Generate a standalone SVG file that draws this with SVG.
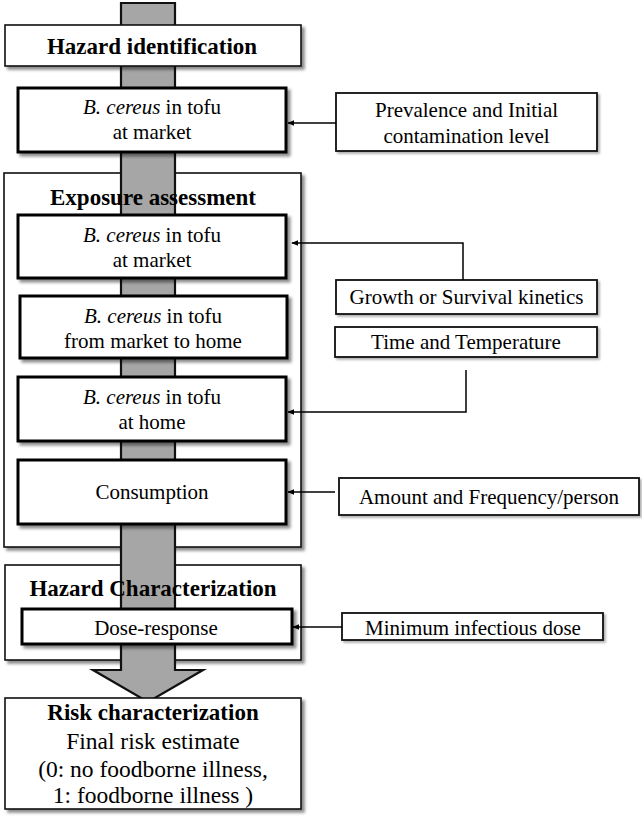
<svg xmlns="http://www.w3.org/2000/svg" width="642" height="818" viewBox="0 0 642 818">
<defs>
<filter id="sh" x="-10%" y="-10%" width="130%" height="140%">
<feDropShadow dx="3" dy="3" stdDeviation="1.5" flood-color="#000" flood-opacity="0.45"/>
</filter>
<filter id="sh2" x="-10%" y="-10%" width="130%" height="140%">
<feDropShadow dx="2" dy="2" stdDeviation="1" flood-color="#000" flood-opacity="0.3"/>
</filter>
<marker id="ah" viewBox="0 0 10 10" refX="9" refY="5" markerWidth="7" markerHeight="7" markerUnits="userSpaceOnUse" orient="auto">
<path d="M0,1 L10,5 L0,9 z" fill="#000"/>
</marker>
</defs>
<style>
text{font-family:"Liberation Serif","Times New Roman",serif;fill:#000;text-anchor:middle}
.t{font-size:21px}
.h{font-size:23px;font-weight:bold}
.r{font-size:23.5px}
.i{font-style:italic}
.thin{fill:#fff;stroke:#111;stroke-width:1.6;filter:url(#sh)}
.thick{fill:#fff;stroke:#000;stroke-width:3;filter:url(#sh)}
.side{fill:#fff;stroke:#111;stroke-width:1.8;filter:url(#sh2)}
.con{fill:none;stroke:#000;stroke-width:1.5}
</style>

<g id="exposure-assessment">
<rect class="thin" x="4" y="173" width="297" height="374"/>
</g>
<g id="hazard-characterization">
<rect class="thin" x="5" y="565" width="296" height="95"/>
</g>

<g id="flow-arrow">
<path d="M121,3 H175 V670 H203 L148,702 L93,670 H121 Z" fill="#a6a6a6" stroke="#111" stroke-width="2.2" stroke-linejoin="miter"/>
</g>

<g id="exposure-title"><text class="h" x="153" y="205">Exposure assessment</text></g>
<g id="hazard-char-title"><text class="h" x="153" y="596">Hazard Characterization</text></g>

<g id="hazard-identification">
<rect class="thin" x="5" y="25" width="296" height="41"/>
<text class="h" x="152" y="54">Hazard identification</text>
</g>

<g id="tofu-market-1">
<rect class="thick" x="18" y="88" width="268" height="64"/>
<text class="t" x="152" y="114"><tspan class="i">B. cereus</tspan> in tofu</text>
<text class="t" x="152" y="139">at market</text>
</g>

<g id="tofu-market-2">
<rect class="thick" x="18" y="215" width="268" height="63"/>
<text class="t" x="152" y="242"><tspan class="i">B. cereus</tspan> in tofu</text>
<text class="t" x="152" y="267">at market</text>
</g>

<g id="tofu-transport">
<rect class="thick" x="20" y="296" width="267" height="62"/>
<text class="t" x="153" y="323"><tspan class="i">B. cereus</tspan> in tofu</text>
<text class="t" x="153" y="348">from market to home</text>
</g>

<g id="tofu-home">
<rect class="thick" x="18" y="377" width="268" height="64"/>
<text class="t" x="152" y="404"><tspan class="i">B. cereus</tspan> in tofu</text>
<text class="t" x="152" y="429">at home</text>
</g>

<g id="consumption">
<rect class="thick" x="18" y="460" width="268" height="64"/>
<text class="t" x="152" y="499">Consumption</text>
</g>

<g id="dose-response">
<rect class="thick" x="22" y="609" width="270" height="35"/>
<text class="t" x="156" y="635">Dose-response</text>
</g>

<g id="risk-characterization">
<rect class="thin" x="5" y="698" width="296" height="111"/>
<text class="h" x="153" y="720">Risk characterization</text>
<text class="r" x="153" y="749">Final risk estimate</text>
<text class="r" x="153" y="777">(0: no foodborne illness,</text>
<text class="r" x="153" y="803">1: foodborne illness )</text>
</g>

<g id="prevalence">
<rect class="side" x="336" y="93" width="261" height="58"/>
<text class="t" x="466.5" y="117">Prevalence and Initial</text>
<text class="t" x="466.5" y="143">contamination level</text>
</g>

<g id="growth-kinetics">
<rect class="side" x="336" y="280" width="261" height="34"/>
<text class="t" x="466.5" y="304">Growth or Survival kinetics</text>
</g>

<g id="time-temperature">
<rect class="side" x="335" y="327" width="262" height="30"/>
<text class="t" x="466" y="349">Time and Temperature</text>
</g>

<g id="amount-frequency">
<rect class="side" x="339" y="478" width="300" height="37"/>
<text class="t" x="489" y="504">Amount and Frequency/person</text>
</g>

<g id="min-infectious-dose">
<rect class="side" x="342" y="613" width="261" height="27"/>
<text class="t" x="473" y="635">Minimum infectious dose</text>
</g>

<g id="connectors">
<path class="con" d="M336,123 H288" marker-end="url(#ah)"/>
<path class="con" d="M463,280 V243 H292" marker-end="url(#ah)"/>
<path class="con" d="M466,370 V412 H288" marker-end="url(#ah)"/>
<path class="con" d="M335,492 H288" marker-end="url(#ah)"/>
<path class="con" d="M342,627 H293" marker-end="url(#ah)"/>
</g>
</svg>
